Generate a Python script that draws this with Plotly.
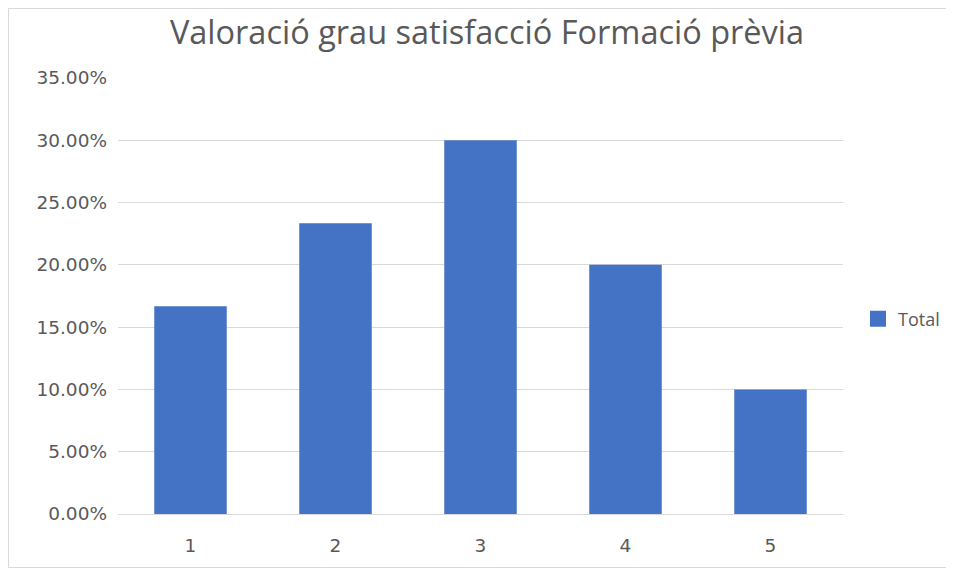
import plotly.graph_objects as go

categories = ["1", "2", "3", "4", "5"]
values = [0.1667, 0.2333, 0.30, 0.20, 0.10]
series_name = "Total"
title_text = "Valoració grau satisfacció Formació prèvia"

# page has an 8px body margin; figure coordinates are page coordinates minus 8
W, H = 946, 560
L, R, T, B = 110, 111, 70, 54
pw, ph = W - L - R, H - T - B
color = "#4472C4"
grey = "#595959"

fig = go.Figure()
fig.add_trace(go.Bar(
    x=categories, y=values, name=series_name,
    marker=dict(color=color, line=dict(width=0)),
    width=0.5, showlegend=False,
))
fig.add_trace(go.Scatter(
    x=[None], y=[None], mode="markers", name=series_name,
    marker=dict(symbol="square", size=17, color=color),
    showlegend=True,
))

def px(x):
    return (x - L) / pw

def py(y):
    return (H - B - y) / ph

fig.add_shape(type="rect", xref="paper", yref="paper",
              x0=px(0.5), x1=px(944), y0=py(H - 0.5), y1=py(0.5),
              line=dict(color="#D9D9D9", width=1), layer="below")

fig.update_layout(
    width=W, height=H,
    margin=dict(l=L, r=R, t=T, b=B, pad=0, autoexpand=False),
    paper_bgcolor="white", plot_bgcolor="white",
    font=dict(family="DejaVu Sans", color=grey),
    title=dict(text=title_text, x=479 / W, xanchor="center", y=1 - 25 / H, yanchor="middle",
               font=dict(size=32.5, color=grey, family="Open Sans")),
    showlegend=True,
    legend=dict(x=px(850), xanchor="left", y=py(311), yanchor="middle",
                font=dict(size=18, color=grey, family="Open Sans"), bgcolor="rgba(0,0,0,0)",
                itemwidth=30),
    xaxis=dict(type="category", showgrid=False, showline=True, linecolor="#D9D9D9", linewidth=1,
               ticks="", tickfont=dict(size=18.5, color=grey), ticklabelstandoff=15),
    yaxis=dict(range=[0, 0.35], dtick=0.05, tickformat=".2%", showgrid=True,
               gridcolor="#D9D9D9", gridwidth=1, zeroline=False, showline=False,
               ticks="", tickfont=dict(size=18.5, color=grey), ticklabelstandoff=10),
    bargap=0.5,
)

fig.write_html("out.html")
